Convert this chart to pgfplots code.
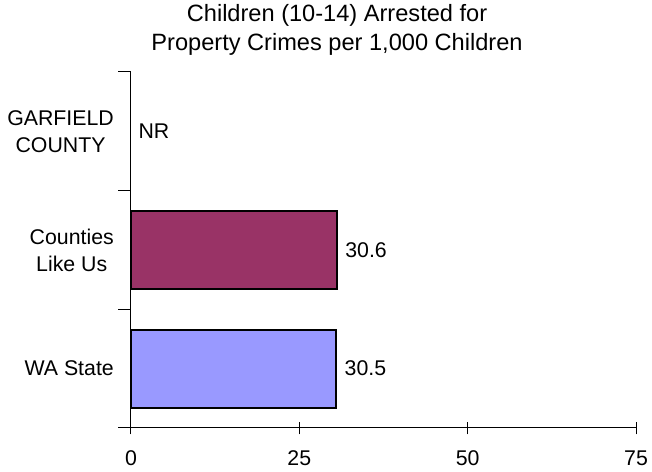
\documentclass[border=0pt]{standalone}
\usepackage{pgfplots}
\pgfplotsset{compat=1.18}
\usepackage{fontspec}
\setmainfont{Liberation Sans}
\definecolor{barpurple}{HTML}{993366}
\definecolor{barblue}{HTML}{9999FF}
\begin{document}
\begin{tikzpicture}
\path[use as bounding box] (-131bp,-44bp) rectangle (521bp,428bp);
\begin{axis}[
  at={(0,0)}, anchor=south west,
  scale only axis, width=505bp, height=356bp,
  xmin=0, xmax=75, ymin=0.5, ymax=3.5,
  axis x line=bottom, axis y line=left,
  axis line style={-, line width=1bp, black},
  xtick={0,25,50,75},
  ytick={0.5,1.5,2.5,3.5},
  yticklabels={},
  extra y ticks={1,2,3},
  extra y tick labels={WA State,{Counties\\Like Us},{GARFIELD\\COUNTY}},
  extra y tick style={tick style={draw=none}},
  tick align=center,
  major tick length=12.7bp,
  tick style={black, line width=1bp},
  /pgf/number format/assume math mode=true,
  tick label style={font=\fontsize{21.3bp}{27bp}\selectfont},
  yticklabel style={align=center, xshift=-1bp},
  xticklabel style={yshift=-13bp},
  title={Children (10-14) Arrested for\\Property Crimes per 1,000 Children},
  title style={at={(0.408,1)}, anchor=south, inner sep=0pt, yshift=10bp,
    align=center, font=\fontsize{23.6bp}{29bp}\selectfont},
  xbar, bar width=78bp, bar shift=0pt,
  nodes near coords,
  nodes near coords style={font=\fontsize{21.3bp}{27bp}\selectfont, black, anchor=west, xshift=4bp, /pgf/number format/fixed, /pgf/number format/precision=1, /pgf/number format/fixed zerofill},
  clip=false,
]
\addplot[fill=barblue, draw=black, line width=2bp] coordinates {(30.5,1)};
\addplot[fill=barpurple, draw=black, line width=2bp] coordinates {(30.6,2)};
\addplot[draw=none, fill=none, nodes near coords={NR}] coordinates {(0,3)};
\end{axis}
\end{tikzpicture}
\end{document}
